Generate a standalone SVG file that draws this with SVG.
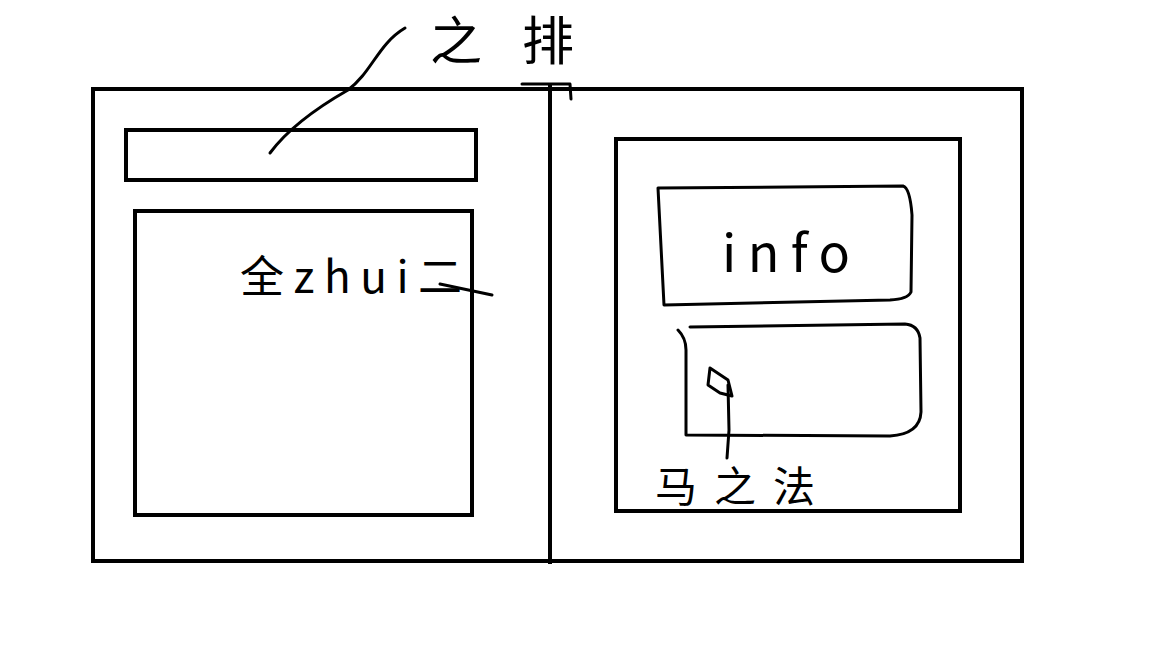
<svg xmlns="http://www.w3.org/2000/svg" width="1152" height="648" viewBox="0 0 1152 648">
<style>
.box{fill:none;stroke:#000;stroke-width:4}
.pen{fill:none;stroke:#000;stroke-width:3;stroke-linecap:round;stroke-linejoin:round}
.lbl{font-family:"Noto Sans CJK SC","Liberation Sans",sans-serif;fill:#000;font-weight:400}
</style>
<rect width="1152" height="648" fill="#fff"/>
<g id="outer"><rect class="box" x="93" y="89" width="929" height="472"/></g>
<g id="divider">
<line class="box" x1="550" y1="84" x2="550" y2="564"/>
<path class="pen" d="M522,84 L570,84 L571,99"/>
</g>
<g id="left-bar"><rect class="box" x="126" y="130" width="350" height="50"/></g>
<g id="left-list"><rect class="box" x="135" y="211" width="337" height="304"/>
<text class="lbl" x="240" y="293" font-size="44" textLength="222" lengthAdjust="spacing">全zhui二</text>
<path class="pen" d="M440,284 L492,295"/>
</g>
<g id="right-panel"><rect class="box" x="616" y="139" width="344" height="372"/></g>
<g id="info-box">
<path class="pen" d="M658,188 L903,186 Q910,188 912,215 L911,292 Q908,299 890,300 L664,305 L658,188"/>
<text class="lbl" x="722" y="272" font-size="52" textLength="128" lengthAdjust="spacing">info</text>
</g>
<g id="reply-box">
<path class="pen" d="M678,330 Q686,338 686,350 L686,435 L890,436 Q920,434 921,412 L920,338 Q918,325 905,324 L690,327"/>
</g>
<g id="label-top"><text class="lbl" x="430" y="60" font-size="52" letter-spacing="40">之排</text></g>
<g id="label-bottom"><text class="lbl" x="655" y="502" font-size="42" textLength="160" lengthAdjust="spacing">马之法</text></g>
<g id="connectors">
<path class="pen" d="M270,153 C290,126 320,106 348,90 C372,72 378,44 405,28"/>
<path class="pen" d="M710,368 L728,380 L732,396 L720,393 L708,385 Z"/>
<path class="pen" d="M728,385 L729,430 L727,458"/>
</g>
</svg>
